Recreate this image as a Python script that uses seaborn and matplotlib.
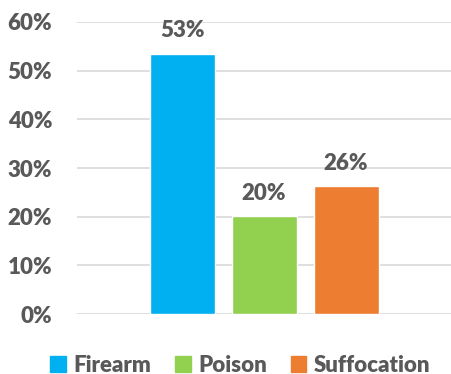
import pandas as pd
import matplotlib.pyplot as plt
import seaborn as sns

# data
causes = ["Firearm", "Poison", "Suffocation"]
shares = [53.5, 20.1, 26.3]
share_labels = ["53%", "20%", "26%"]
colors = ["#00B0F0", "#92D050", "#ED7D31"]
y_ticks = [0, 10, 20, 30, 40, 50, 60]

df = pd.DataFrame({"group": ["all"] * len(causes), "cause": causes, "share": shares})

sns.set_style("white")
plt.rcParams["font.family"] = ["Lato", "DejaVu Sans"]
text_color = "#595959"

fig = plt.figure(figsize=(4.51, 3.74), dpi=100)
ax = fig.add_axes([0.171, 0.1604, 0.829, 0.7808])

sns.barplot(data=df, x="group", y="share", hue="cause", hue_order=causes,
            palette=colors, width=0.658, gap=0.207, saturation=1, ax=ax,
            legend=False)

for cont, lab in zip(ax.containers, share_labels):
    ax.bar_label(cont, labels=[lab], padding=9, fontsize=16,
                 fontweight="heavy", color=text_color)

ax.set_xlim(-0.5, 0.5)
ax.set_ylim(0, 60)
ax.set_yticks(y_ticks)
ax.set_yticklabels([f"{t}%" for t in y_ticks], fontsize=16,
                   fontweight="heavy", color=text_color)
ax.set_xticks([])
ax.set_xlabel("")
ax.set_ylabel("")
ax.tick_params(axis="y", length=0, pad=18)
ax.yaxis.grid(True, color="#D9D9D9", linewidth=1.2)
ax.set_axisbelow(True)
sns.despine(ax=ax, left=True, bottom=True)

handles = [plt.Rectangle((0, 0), 1, 1, color=c) for c in colors]
leg = fig.legend(handles, causes, loc="center", bbox_to_anchor=(0.533, 0.024),
                 ncol=3, frameon=False, handlelength=0.7, handleheight=0.7,
                 handletextpad=0.35, columnspacing=1.07,
                 prop={"size": 16, "weight": "heavy"})
for t in leg.get_texts():
    t.set_color(text_color)

fig.savefig("out.png", dpi=100)
